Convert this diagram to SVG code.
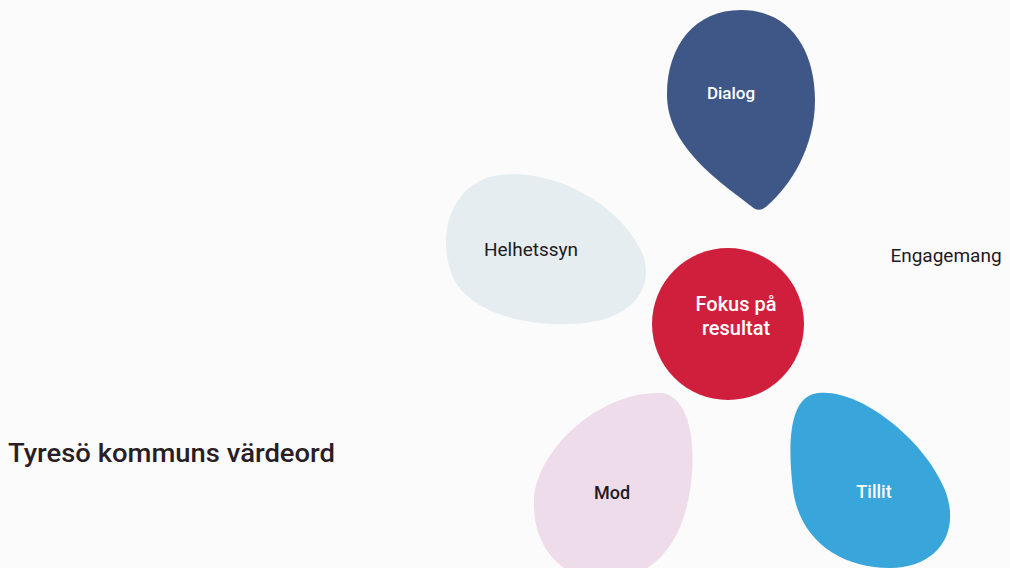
<svg xmlns="http://www.w3.org/2000/svg" width="1010" height="568" viewBox="0 0 1010 568">
<style>
.lbl{font-family:Roboto,"DejaVu Sans",sans-serif;font-weight:500;text-anchor:middle}
.reg{font-weight:400}
.dark{fill:#1d1a22}
.light{fill:#ffffff}
</style>
<rect width="1010" height="568" fill="#fbfbfb"/>
<g id="title"><text x="8" y="462" font-family="Roboto,'DejaVu Sans',sans-serif" font-weight="500" font-size="25" fill="#2a1d24" textLength="327" lengthAdjust="spacingAndGlyphs">Tyresö kommuns värdeord</text></g>
<g id="connectors"/>
<g id="helhetssyn">
<path d="M 500,175 C 560,168 625,210 643,255 C 655,290 630,318 585,323 C 540,328 470,318 452,275 C 435,230 455,180 500,175 Z" fill="#e5edf0"/>
<text class="lbl reg dark" x="531" y="256" font-size="19">Helhetssyn</text>
</g>
<g id="dialog">
<path d="M 741,10 C 790,10 815,50 815,100 C 815,148 790,186 768,205 C 762,211 756,211 751,206 C 728,187 667,150 667,95 C 667,45 695,10 741,10 Z" fill="#3e5787"/>
<text class="lbl light" x="731" y="99" font-size="17">Dialog</text>
</g>
<g id="engagemang">
<text class="lbl reg dark" x="946" y="262" font-size="19">Engagemang</text>
</g>
<g id="fokus">
<circle cx="728" cy="324" r="76" fill="#cf1f3c"/>
<text class="lbl light" x="736" y="311" font-size="20">Fokus på</text>
<text class="lbl light" x="736" y="335" font-size="20">resultat</text>
</g>
<g id="mod">
<path d="M 662,393 C 690,397 697,445 690,490 C 683,540 655,580 605,580 C 560,580 532,545 534,500 C 536,450 600,390 662,393 Z" fill="#efdcea"/>
<text class="lbl dark" x="612" y="499" font-size="18">Mod</text>
</g>
<g id="tillit">
<path d="M 818,393 C 860,388 925,440 945,490 C 962,535 935,568 890,568 C 840,568 800,540 793,490 C 787,440 790,396 818,393 Z" fill="#38a5db"/>
<text class="lbl light" x="874" y="498" font-size="18">Tillit</text>
</g>
</svg>
